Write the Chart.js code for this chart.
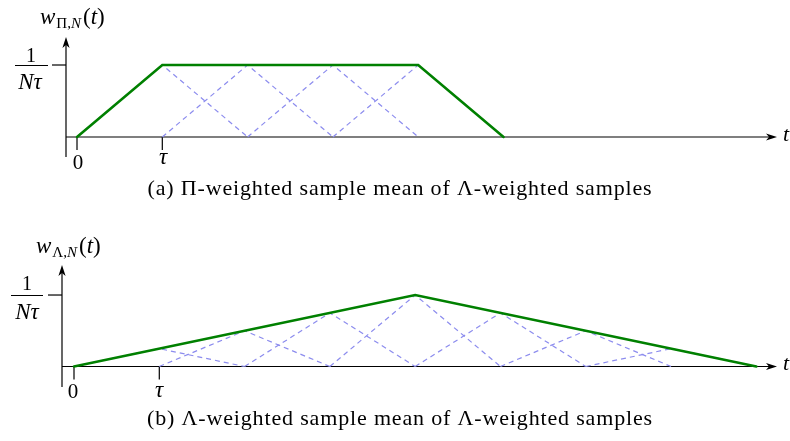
<!DOCTYPE html>
<html>
<head>
<meta charset="utf-8">
<script src="https://cdn.jsdelivr.net/npm/chart.js@4.4.1/dist/chart.umd.min.js"></script>
<style>
html,body{margin:0;padding:0;background:#fff;}
body{width:790px;height:441px;position:relative;overflow:hidden;font-family:"Liberation Serif","DejaVu Serif",serif;color:#000;}
canvas{position:absolute;left:0;}
.lbl{position:absolute;white-space:nowrap;line-height:1;font-size:22px;}
.ylab{font-size:23px;}
.c{transform:translate(-50%,-50%);}
.sub{font-size:15px;position:relative;top:4px;margin:0 2px 0 1px;}
.bar{position:absolute;height:0;border-top:1.2px solid #000;}
.cap{position:absolute;white-space:nowrap;line-height:1;font-size:22px;transform:translate(-50%,-50%);}
</style>
</head>
<body>
<canvas id="chartA" width="790" height="200" style="top:0px"></canvas>
<canvas id="chartB" width="790" height="221" style="top:220px"></canvas>

<!-- panel (a) texts -->
<div class="lbl ylab" style="left:40px;top:5px"><i>w</i><span class="sub">Π,<i>N</i></span>(<i>t</i>)</div>
<div class="lbl c" style="left:31px;top:55px;font-size:20px">1</div>
<div class="bar" style="left:15px;top:65px;width:33px"></div>
<div class="lbl c" style="left:30px;top:81px;font-size:23px"><i>N</i><i>τ</i></div>
<div class="lbl c" style="left:78px;top:162px;font-size:21px">0</div>
<div class="lbl c" style="left:163px;top:156px;font-size:23px"><i>τ</i></div>
<div class="lbl" style="left:783px;top:123px"><i>t</i></div>
<div class="cap" id="capA" data-w="505" style="left:400px;top:188px">(a) Π-weighted sample mean of Λ-weighted samples</div>

<!-- panel (b) texts -->
<div class="lbl ylab" style="left:36px;top:234px"><i>w</i><span class="sub">Λ,<i>N</i></span>(<i>t</i>)</div>
<div class="lbl c" style="left:27px;top:283px;font-size:20px">1</div>
<div class="bar" style="left:11px;top:295px;width:32px"></div>
<div class="lbl c" style="left:27px;top:311px;font-size:23px"><i>N</i><i>τ</i></div>
<div class="lbl c" style="left:73px;top:391px;font-size:21px">0</div>
<div class="lbl c" style="left:159px;top:389px;font-size:23px"><i>τ</i></div>
<div class="lbl" style="left:783px;top:352px"><i>t</i></div>
<div class="cap" id="capB" data-w="506" style="left:400px;top:418px">(b) Λ-weighted sample mean of Λ-weighted samples</div>

<script>
// ---------- data (time in units of τ, weight in units of 1/(Nτ)) ----------
// Panel (a): Π-weighted mean of Λ-weighted samples
const aOutlineT  = [0, 1, 4, 5];
const aOutlineW  = [0, 1, 1, 0];
const aTriStart  = [0, 1, 2, 3];
const aTriPeak   = [1, 2, 3, 4];
const aTriEnd    = [2, 3, 4, 5];
const aTriHeight = [1, 1, 1, 1];

// Panel (b): Λ-weighted mean of Λ-weighted samples
const bOutlineT  = [0, 4, 8];
const bOutlineW  = [0, 1, 0];
const bTriStart  = [0, 1, 2, 3, 4, 5, 6];
const bTriPeak   = [1, 2, 3, 4, 5, 6, 7];
const bTriEnd    = [2, 3, 4, 5, 6, 7, 8];
const bTriHeight = [0.25, 0.5, 0.75, 1, 0.75, 0.5, 0.25];

// tick positions
const xTickValues = [0, 1];
const yTickValues = [1];

// ---------- styling ----------
const GREEN = 'rgb(0,128,0)';
const LAVENDER = 'rgb(140,140,238)';

function outlineDataset(ts, ws) {
  return {
    data: ts.map((t, i) => ({x: t, y: ws[i]})),
    borderColor: GREEN, borderWidth: 2.6, pointRadius: 0, tension: 0,
    fill: false, order: 0, borderCapStyle: 'round', borderJoinStyle: 'miter'
  };
}
function triangleDatasets(starts, peaks, ends, heights) {
  return starts.map((s, i) => ({
    data: [{x: s, y: 0}, {x: peaks[i], y: heights[i]}, {x: ends[i], y: 0}],
    borderColor: LAVENDER, borderWidth: 1.2, borderDash: [5, 4],
    pointRadius: 0, tension: 0, fill: false, order: 1
  }));
}

const axesPlugin = {
  id: 'axesArrows',
  beforeDatasetsDraw(chart) {
    const {ctx, chartArea: a, scales: {x, y}} = chart;
    const y0 = y.getPixelForValue(0);
    const L = 11, W = 3.6, N = 3;
    ctx.save();
    ctx.strokeStyle = '#000';
    ctx.fillStyle = '#000';
    ctx.lineWidth = 1.2;
    // y axis
    ctx.beginPath();
    ctx.moveTo(a.left, a.bottom);
    ctx.lineTo(a.left, a.top + L - N);
    ctx.stroke();
    ctx.beginPath();
    ctx.moveTo(a.left, a.top);
    ctx.lineTo(a.left - W, a.top + L);
    ctx.lineTo(a.left, a.top + L - N);
    ctx.lineTo(a.left + W, a.top + L);
    ctx.closePath();
    ctx.fill();
    // x axis
    ctx.beginPath();
    ctx.moveTo(a.left, y0);
    ctx.lineTo(a.right - L + N, y0);
    ctx.stroke();
    ctx.beginPath();
    ctx.moveTo(a.right, y0);
    ctx.lineTo(a.right - L, y0 - W);
    ctx.lineTo(a.right - L + N, y0);
    ctx.lineTo(a.right - L, y0 + W);
    ctx.closePath();
    ctx.fill();
    // x ticks
    xTickValues.forEach(v => {
      const px = x.getPixelForValue(v);
      ctx.beginPath();
      ctx.moveTo(px, y0);
      ctx.lineTo(px, y0 + 13);
      ctx.stroke();
    });
    // y ticks
    yTickValues.forEach(v => {
      const py = y.getPixelForValue(v);
      ctx.beginPath();
      ctx.moveTo(a.left - 14, py);
      ctx.lineTo(a.left, py);
      ctx.stroke();
    });
    ctx.restore();
  }
};

function makeChart(id, datasets, padding, xr, yr) {
  return new Chart(document.getElementById(id), {
    type: 'line',
    data: {datasets},
    options: {
      responsive: false, animation: false, devicePixelRatio: 1,
      layout: {padding},
      plugins: {legend: {display: false}, tooltip: {enabled: false}, title: {display: false}},
      scales: {
        x: {type: 'linear', display: false, min: xr[0], max: xr[1]},
        y: {type: 'linear', display: false, min: yr[0], max: yr[1]}
      },
      elements: {line: {borderJoinStyle: 'miter'}}
    },
    plugins: [axesPlugin]
  });
}

makeChart('chartA',
  [outlineDataset(aOutlineT, aOutlineW)].concat(triangleDatasets(aTriStart, aTriPeak, aTriEnd, aTriHeight)),
  {left: 66, right: 13, top: 37, bottom: 43},
  [-0.129, 8.206], [-0.278, 1.389]);

makeChart('chartB',
  [outlineDataset(bOutlineT, bOutlineW)].concat(triangleDatasets(bTriStart, bTriPeak, bTriEnd, bTriHeight)),
  {left: 62, right: 13, top: 45, bottom: 54},
  [-0.1407, 8.242], [-0.287, 1.42]);

// fit caption widths by letter spacing
['capA', 'capB'].forEach(id => {
  const el = document.getElementById(id);
  const target = +el.dataset.w;
  const w = el.getBoundingClientRect().width;
  const n = el.textContent.length;
  el.style.letterSpacing = ((target - w) / n).toFixed(3) + 'px';
});
</script>
</body>
</html>
